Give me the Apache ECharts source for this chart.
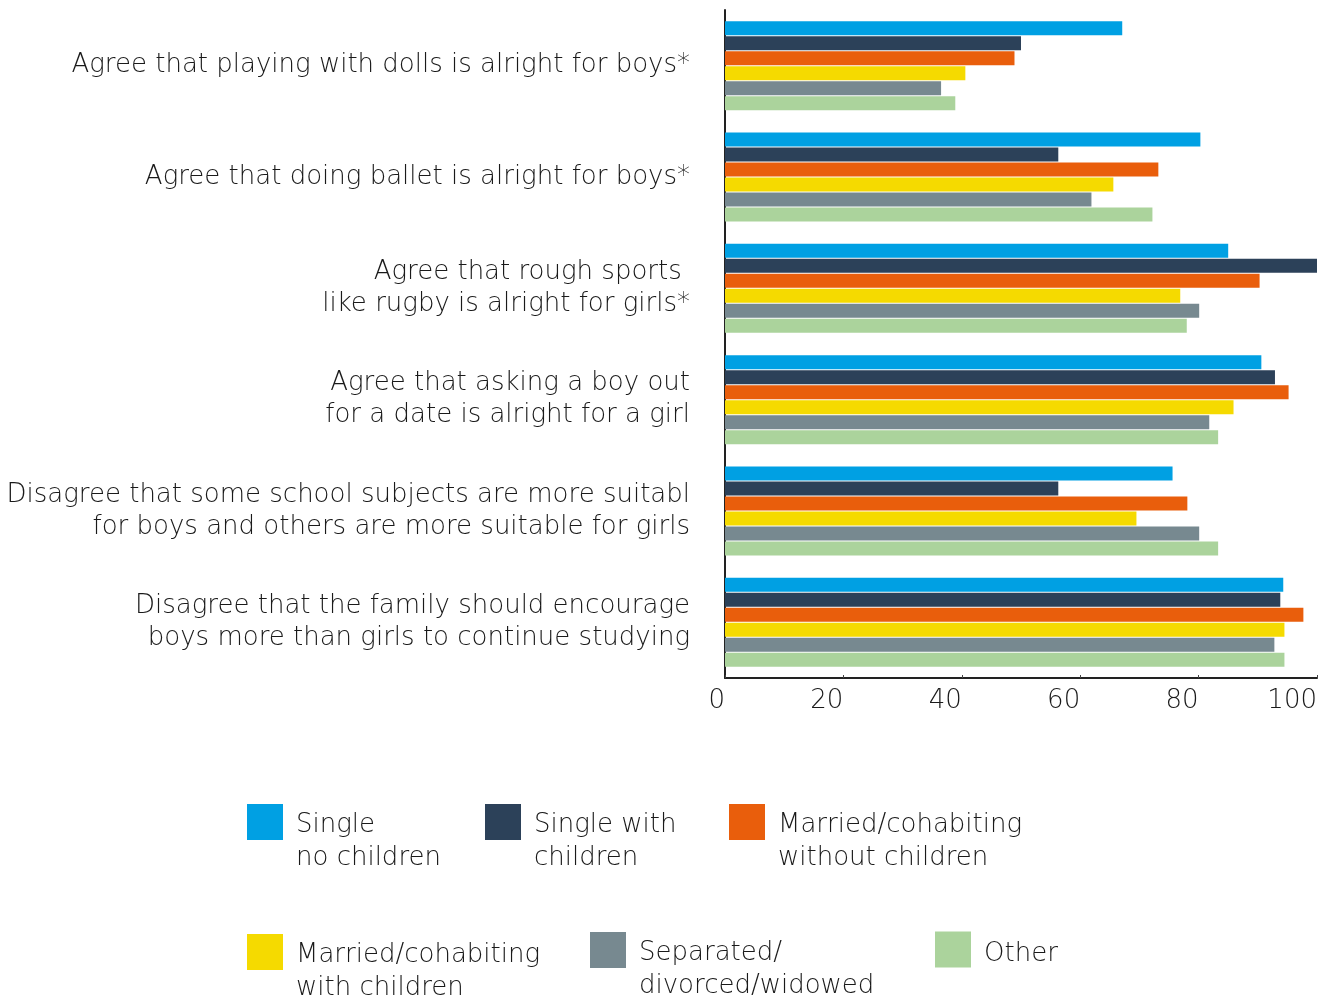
<!DOCTYPE html>
<html>
<head>
<meta charset="utf-8">
<script src="https://cdn.jsdelivr.net/npm/echarts@6/dist/echarts.min.js"></script>
<style>
  html, body { margin: 0; padding: 0; background: #ffffff; }
  #chart { width: 1329px; height: 996px; }
</style>
</head>
<body>
<div id="chart"></div>
<script>
// Statements, top to bottom
const categories = [
  'Agree that playing with dolls is alright for boys*',
  'Agree that doing ballet is alright for boys*',
  'Agree that rough sports \nlike rugby is alright for girls*',
  'Agree that asking a boy out\nfor a date is alright for a girl',
  'Disagree that some school subjects are more suitabl\nfor boys and others are more suitable for girls',
  'Disagree that the family should encourage\nboys more than girls to continue studying'
];

// Household groups (legend names)
const seriesNames = [
  'Single\nno children',
  'Single with\nchildren',
  'Married/cohabiting\nwithout children',
  'Married/cohabiting\nwith children',
  'Separated/\ndivorced/widowed',
  'Other'
];

// Percentages per household group, one value per statement
const singleNoChildren     = [67.1, 80.3, 85.0, 90.6, 75.6, 94.3];
const singleWithChildren   = [50.0, 56.3, 100.0, 92.9, 56.3, 93.8];
const marriedNoChildren    = [48.9, 73.2, 90.3, 95.2, 78.1, 97.7];
const marriedWithChildren  = [40.6, 65.6, 76.9, 85.9, 69.5, 94.5];
const separated            = [36.5, 61.9, 80.1, 81.8, 80.1, 92.8];
const other                = [38.9, 72.2, 78.0, 83.3, 83.3, 94.5];

const xTicks = [0, 20, 40, 60, 80, 100];

const colors = ['#00a0e3', '#2c4159', '#e95e0c', '#f5da00', '#778990', '#abd39c'];
const seriesData = [singleNoChildren, singleWithChildren, marriedNoChildren,
                    marriedWithChildren, separated, other];

const FONT = '"DejaVu Sans", Lato, sans-serif';
const FONT_WEIGHT = 200;
const FONT_SIZE = 26;
const TEXT_COLOR = '#1a1a1a';

// Legend placement (icon top-left corners)
const legendSpots = [
  [247, 804], [485, 804], [729, 804],
  [247, 934], [590, 932], [935, 932]
];

const legends = seriesNames.map((name, i) => {
  const twoLine = name.indexOf('\n') >= 0;
  return {
    data: [name],
    left: legendSpots[i][0],
    top: legendSpots[i][1] - (twoLine ? 35 : 4),
    orient: 'horizontal',
    icon: 'rect',
    itemWidth: 36,
    itemHeight: 36,
    padding: 0,
    selectedMode: false,
    // a spacer row above the name keeps its first line level with the swatch
    formatter: n => (twoLine ? '{gap| }\n' + n : '{gapS| }\n' + n),
    textStyle: {
      fontFamily: FONT,
      fontWeight: FONT_WEIGHT,
      fontSize: FONT_SIZE,
      lineHeight: 33,
      color: TEXT_COLOR,
      padding: [0, 0, 0, 8],
      rich: {
        gap: { height: 40, lineHeight: 40, fontSize: FONT_SIZE },
        gapS: { height: 10, lineHeight: 10, fontSize: 8 }
      }
    }
  };
});

const chart = echarts.init(document.getElementById('chart'), null, { renderer: 'canvas' });

chart.setOption({
  animation: false,
  backgroundColor: '#ffffff',
  color: colors,
  grid: { left: 725, right: 12, top: 10, bottom: 318, containLabel: false },
  legend: legends,
  xAxis: {
    type: 'value',
    min: 0,
    max: 100,
    interval: 20,
    splitLine: { show: false },
    axisLine: { show: true, lineStyle: { color: '#222222', width: 2 } },
    axisTick: { show: true, inside: true, length: 3, lineStyle: { color: '#444444' } },
    axisLabel: {
      fontFamily: FONT,
      fontWeight: FONT_WEIGHT,
      fontSize: FONT_SIZE,
      color: TEXT_COLOR,
      align: 'right',
      margin: 10,
      formatter: v => (xTicks.indexOf(v) >= 0 ? String(v) : '')
    }
  },
  yAxis: {
    type: 'category',
    data: categories,
    inverse: true,
    axisLine: { show: true, lineStyle: { color: '#222222', width: 2 } },
    axisTick: { show: false },
    axisLabel: {
      fontFamily: FONT,
      fontWeight: FONT_WEIGHT,
      fontSize: FONT_SIZE,
      lineHeight: 32,
      color: TEXT_COLOR,
      margin: 35,
      align: 'right'
    }
  },
  series: seriesNames.map((name, i) => ({
    name: name,
    type: 'bar',
    data: seriesData[i],
    barCategoryGap: '20%',
    barGap: '7%',
    itemStyle: { color: colors[i] }
  }))
});
</script>
</body>
</html>
